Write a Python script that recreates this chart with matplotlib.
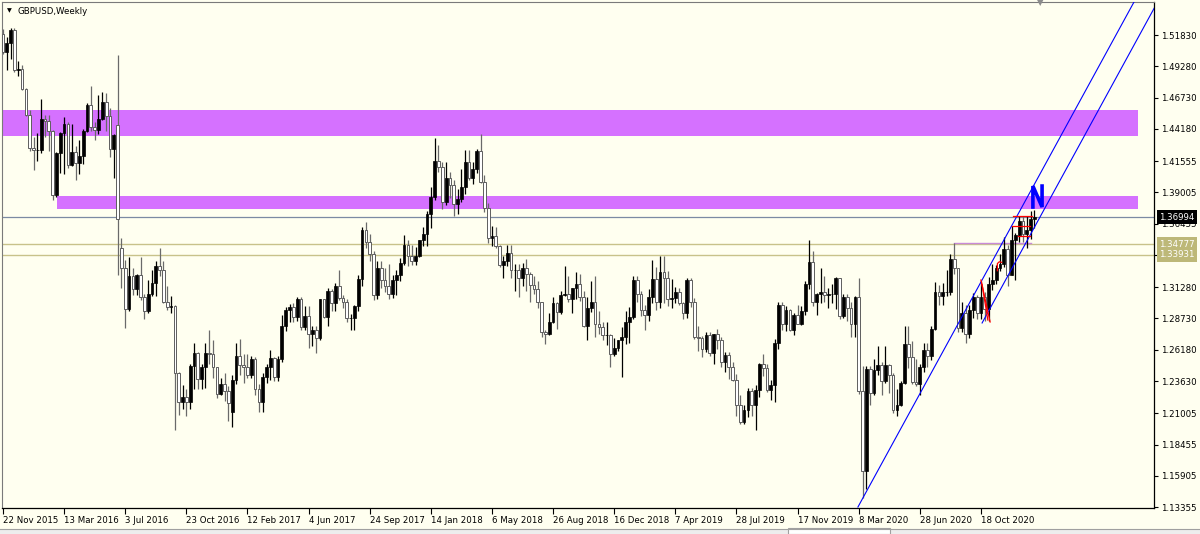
import numpy as np
import pandas as pd
import matplotlib
matplotlib.use("Agg")
import matplotlib.pyplot as plt
from matplotlib.patches import Rectangle
from matplotlib.transforms import blended_transform_factory

symbol = "GBPUSD,Weekly"
first_week = "2015-11-22"

# weekly bars, first one is the week of 22 Nov 2015
opens = [
    1.5195, 1.5045, 1.5120, 1.5220, 1.4895, 1.4905, 1.4740, 1.4535, 1.4260, 1.4245,
    1.4245, 1.4500, 1.4485, 1.4400, 1.3880, 1.4225, 1.4385, 1.4460, 1.4120, 1.4230,
    1.4140, 1.4200, 1.4400, 1.4615, 1.4435, 1.4410, 1.4495, 1.4640, 1.4520, 1.4255,
    1.4450, 1.3450, 1.3280, 1.2950, 1.3220, 1.3110, 1.3225, 1.3045, 1.2935, 1.3075,
    1.3160, 1.3300, 1.3265, 1.3005, 1.2970, 1.2975, 1.2430, 1.2190, 1.2230, 1.2190,
    1.2485, 1.2595, 1.2380, 1.2475, 1.2590, 1.2580, 1.2480, 1.2260, 1.2340, 1.2280,
    1.2110, 1.2370, 1.2570, 1.2490, 1.2480, 1.2410, 1.2545, 1.2295, 1.2195, 1.2395,
    1.2480, 1.2550, 1.2395, 1.2540, 1.2810, 1.2945, 1.2965, 1.2885, 1.3035, 1.2805,
    1.2890, 1.2745, 1.2780, 1.2715, 1.3030, 1.2885, 1.3095, 1.2995, 1.3135, 1.3040,
    1.3010, 1.2875, 1.2880, 1.2975, 1.3195, 1.3595, 1.3500, 1.3395, 1.3065, 1.3285,
    1.3190, 1.3135, 1.3075, 1.3190, 1.3225, 1.3325, 1.3475, 1.3385, 1.3340, 1.3380,
    1.3510, 1.3565, 1.3725, 1.3865, 1.4155, 1.4110, 1.3825, 1.4015, 1.3960, 1.3805,
    1.3850, 1.3945, 1.4145, 1.4020, 1.4090, 1.4240, 1.3985, 1.3775, 1.3530, 1.3545,
    1.3465, 1.3305, 1.3340, 1.3410, 1.3265, 1.3265, 1.3205, 1.3285, 1.3235, 1.3145,
    1.3115, 1.3005, 1.2765, 1.2745, 1.2845, 1.3000, 1.2925, 1.3065, 1.3075, 1.3030,
    1.3120, 1.3150, 1.3045, 1.2815, 1.2960, 1.3005, 1.2825, 1.2805, 1.2735, 1.2735,
    1.2585, 1.2635, 1.2695, 1.2725, 1.2840, 1.2885, 1.3190, 1.3075, 1.2940, 1.2900,
    1.3045, 1.3195, 1.3005, 1.3250, 1.3205, 1.3030, 1.3040, 1.3085, 1.3000, 1.2915,
    1.3185, 1.3005, 1.2720, 1.2715, 1.2625, 1.2740, 1.2590, 1.2745, 1.2695, 1.2520,
    1.2575, 1.2475, 1.2375, 1.2165, 1.2030, 1.2130, 1.2280, 1.2165, 1.2290, 1.2500,
    1.2470, 1.2290, 1.2330, 1.2670, 1.2985, 1.2830, 1.2940, 1.2780, 1.2905, 1.2830,
    1.2930, 1.3150, 1.3330, 1.3010, 1.3075, 1.3085, 1.3060, 1.3070, 1.3075, 1.3200,
    1.2895, 1.3045, 1.2960, 1.2825, 1.3045, 1.2280, 1.1630, 1.2460, 1.2265, 1.2450,
    1.2495, 1.2365, 1.2490, 1.2410, 1.2130, 1.2170, 1.2345, 1.2665, 1.2560, 1.2355,
    1.2335, 1.2480, 1.2615, 1.2570, 1.2790, 1.3085, 1.3055, 1.3090, 1.3090, 1.3355,
    1.3280, 1.2795, 1.2915, 1.2745, 1.2940, 1.3045, 1.2915, 1.3045, 1.2950, 1.3150,
    1.3190, 1.3285, 1.3315, 1.3440, 1.3230, 1.3515, 1.3555, 1.3670, 1.3565, 1.3590,
    1.3685,
]
highs = [
    1.5235, 1.5165, 1.5240, 1.5240, 1.4970, 1.4935, 1.4750, 1.4570, 1.4350, 1.4385,
    1.4665, 1.4535, 1.4530, 1.4410, 1.4230, 1.4395, 1.4515, 1.4470, 1.4460, 1.4280,
    1.4330, 1.4415, 1.4630, 1.4770, 1.4470, 1.4695, 1.4720, 1.4710, 1.4590, 1.4375,
    1.5020, 1.3530, 1.3350, 1.3370, 1.3285, 1.3235, 1.3370, 1.3070, 1.3185, 1.3270,
    1.3345, 1.3445, 1.3340, 1.3140, 1.3055, 1.2980, 1.2435, 1.2330, 1.2295, 1.2500,
    1.2675, 1.2600, 1.2505, 1.2675, 1.2775, 1.2700, 1.2480, 1.2385, 1.2430, 1.2325,
    1.2415, 1.2675, 1.2705, 1.2580, 1.2580, 1.2570, 1.2555, 1.2335, 1.2430, 1.2505,
    1.2615, 1.2560, 1.2570, 1.2905, 1.2965, 1.2990, 1.3000, 1.3050, 1.3045, 1.2975,
    1.2975, 1.2815, 1.2815, 1.3030, 1.3035, 1.3125, 1.3115, 1.3165, 1.3270, 1.3060,
    1.3030, 1.2910, 1.2980, 1.3225, 1.3615, 1.3655, 1.3565, 1.3420, 1.3340, 1.3340,
    1.3285, 1.3320, 1.3225, 1.3270, 1.3365, 1.3550, 1.3510, 1.3470, 1.3455, 1.3515,
    1.3615, 1.3745, 1.3945, 1.4345, 1.4285, 1.4145, 1.4145, 1.4070, 1.4000, 1.3930,
    1.4090, 1.4245, 1.4245, 1.4145, 1.4250, 1.4377, 1.4040, 1.3815, 1.3630, 1.3620,
    1.3475, 1.3385, 1.3470, 1.3475, 1.3315, 1.3315, 1.3325, 1.3360, 1.3255, 1.3215,
    1.3175, 1.3010, 1.2775, 1.2915, 1.3045, 1.3010, 1.3100, 1.3300, 1.3215, 1.3125,
    1.3255, 1.3235, 1.3100, 1.3045, 1.3175, 1.3215, 1.2930, 1.2845, 1.2840, 1.2750,
    1.2715, 1.2700, 1.2800, 1.2930, 1.2965, 1.3215, 1.3215, 1.3095, 1.2985, 1.3110,
    1.3350, 1.3290, 1.3380, 1.3385, 1.3260, 1.3195, 1.3130, 1.3125, 1.3005, 1.3200,
    1.3200, 1.3040, 1.2815, 1.2730, 1.2765, 1.2760, 1.2750, 1.2785, 1.2720, 1.2600,
    1.2600, 1.2520, 1.2420, 1.2250, 1.2170, 1.2310, 1.2310, 1.2330, 1.2510, 1.2580,
    1.2500, 1.2375, 1.2705, 1.3010, 1.3010, 1.2975, 1.2950, 1.2920, 1.2985, 1.2975,
    1.3175, 1.3515, 1.3425, 1.3080, 1.3285, 1.3215, 1.3120, 1.3150, 1.3210, 1.3205,
    1.3070, 1.3070, 1.3010, 1.3055, 1.3200, 1.2485, 1.2485, 1.2485, 1.2545, 1.2650,
    1.2515, 1.2645, 1.2500, 1.2430, 1.2295, 1.2365, 1.2810, 1.2815, 1.2690, 1.2545,
    1.2500, 1.2670, 1.2670, 1.2815, 1.3170, 1.3145, 1.3165, 1.3265, 1.3395, 1.3485,
    1.3285, 1.3005, 1.2980, 1.2980, 1.3080, 1.3065, 1.3175, 1.3085, 1.3210, 1.3315,
    1.3310, 1.3400, 1.3540, 1.3470, 1.3625, 1.3570, 1.3705, 1.3705, 1.3710, 1.3745,
    1.3760,
]
lows = [
    1.5030, 1.4895, 1.4990, 1.4880, 1.4850, 1.4735, 1.4525, 1.4240, 1.4080, 1.4160,
    1.4220, 1.4350, 1.4240, 1.3835, 1.3865, 1.4055, 1.4050, 1.4100, 1.4115, 1.4005,
    1.4050, 1.4130, 1.4390, 1.4400, 1.4330, 1.4380, 1.4490, 1.4400, 1.4190, 1.4015,
    1.3230, 1.3120, 1.2795, 1.2930, 1.3060, 1.3060, 1.3025, 1.2865, 1.2915, 1.3055,
    1.3055, 1.3215, 1.3000, 1.2945, 1.2920, 1.1960, 1.2085, 1.2135, 1.2080, 1.2135,
    1.2300, 1.2300, 1.2300, 1.2310, 1.2505, 1.2385, 1.2225, 1.2245, 1.2200, 1.2035,
    1.1985, 1.2340, 1.2410, 1.2345, 1.2385, 1.2385, 1.2250, 1.2110, 1.2110, 1.2345,
    1.2375, 1.2365, 1.2365, 1.2515, 1.2770, 1.2840, 1.2840, 1.2850, 1.2775, 1.2775,
    1.2635, 1.2650, 1.2590, 1.2695, 1.2880, 1.2810, 1.2930, 1.2930, 1.3020, 1.2955,
    1.2845, 1.2775, 1.2775, 1.2930, 1.3140, 1.3450, 1.3340, 1.3025, 1.3030, 1.3125,
    1.3085, 1.3030, 1.3040, 1.3060, 1.3175, 1.3305, 1.3300, 1.3310, 1.3305, 1.3370,
    1.3460, 1.3460, 1.3610, 1.3840, 1.4065, 1.3765, 1.3795, 1.3855, 1.3710, 1.3725,
    1.3820, 1.3890, 1.4000, 1.3965, 1.4055, 1.3975, 1.3740, 1.3485, 1.3460, 1.3445,
    1.3295, 1.3205, 1.3300, 1.3205, 1.3100, 1.3050, 1.3135, 1.3100, 1.3010, 1.3070,
    1.2955, 1.2725, 1.2665, 1.2735, 1.2835, 1.2785, 1.2910, 1.3055, 1.3010, 1.2920,
    1.3030, 1.3015, 1.2800, 1.2695, 1.2925, 1.2725, 1.2750, 1.2700, 1.2660, 1.2475,
    1.2570, 1.2605, 1.2395, 1.2665, 1.2670, 1.2865, 1.3005, 1.2890, 1.2775, 1.2855,
    1.3000, 1.2945, 1.2960, 1.3000, 1.2975, 1.2960, 1.3000, 1.2985, 1.2865, 1.2880,
    1.2970, 1.2705, 1.2605, 1.2560, 1.2600, 1.2570, 1.2505, 1.2625, 1.2480, 1.2440,
    1.2380, 1.2360, 1.2080, 1.2015, 1.2015, 1.2070, 1.2075, 1.1960, 1.2235, 1.2400,
    1.2270, 1.2205, 1.2195, 1.2620, 1.2775, 1.2770, 1.2770, 1.2735, 1.2825, 1.2820,
    1.2900, 1.3110, 1.2975, 1.2905, 1.2995, 1.3010, 1.2960, 1.2995, 1.2950, 1.2870,
    1.2875, 1.2850, 1.2725, 1.2725, 1.2260, 1.1410, 1.1480, 1.2165, 1.2245, 1.2410,
    1.2245, 1.2350, 1.2265, 1.2105, 1.2075, 1.2160, 1.2335, 1.2465, 1.2335, 1.2320,
    1.2250, 1.2440, 1.2480, 1.2535, 1.2780, 1.2980, 1.2980, 1.3055, 1.3060, 1.3235,
    1.2765, 1.2765, 1.2675, 1.2710, 1.2880, 1.2865, 1.2865, 1.2855, 1.2855, 1.3105,
    1.3150, 1.3260, 1.3290, 1.3135, 1.3225, 1.3190, 1.3500, 1.3500, 1.3450, 1.3520,
    1.3610,
]
closes = [
    1.5045, 1.5120, 1.5220, 1.4895, 1.4905, 1.4740, 1.4535, 1.4260, 1.4245, 1.4245,
    1.4500, 1.4485, 1.4400, 1.3880, 1.4225, 1.4385, 1.4460, 1.4120, 1.4230, 1.4140,
    1.4200, 1.4400, 1.4615, 1.4435, 1.4410, 1.4495, 1.4640, 1.4520, 1.4255, 1.4365,
    1.3680, 1.3280, 1.2950, 1.3220, 1.3110, 1.3225, 1.3045, 1.2935, 1.3075, 1.3160,
    1.3300, 1.3265, 1.3005, 1.2970, 1.2975, 1.2430, 1.2190, 1.2230, 1.2190, 1.2485,
    1.2595, 1.2380, 1.2475, 1.2590, 1.2580, 1.2480, 1.2260, 1.2340, 1.2280, 1.2180,
    1.2370, 1.2570, 1.2490, 1.2480, 1.2410, 1.2545, 1.2295, 1.2195, 1.2395, 1.2480,
    1.2550, 1.2395, 1.2540, 1.2810, 1.2945, 1.2965, 1.2885, 1.3035, 1.2805, 1.2890,
    1.2745, 1.2780, 1.2715, 1.3030, 1.2885, 1.3095, 1.2995, 1.3135, 1.3040, 1.3010,
    1.2875, 1.2880, 1.2975, 1.3195, 1.3595, 1.3500, 1.3395, 1.3065, 1.3285, 1.3190,
    1.3135, 1.3075, 1.3190, 1.3225, 1.3325, 1.3475, 1.3385, 1.3340, 1.3380, 1.3510,
    1.3565, 1.3725, 1.3865, 1.4155, 1.4110, 1.3825, 1.4015, 1.3960, 1.3805, 1.3850,
    1.3945, 1.4145, 1.4020, 1.4090, 1.4240, 1.3985, 1.3775, 1.3530, 1.3545, 1.3465,
    1.3305, 1.3340, 1.3410, 1.3265, 1.3265, 1.3205, 1.3285, 1.3235, 1.3145, 1.3115,
    1.3005, 1.2765, 1.2745, 1.2845, 1.3000, 1.2925, 1.3065, 1.3075, 1.3030, 1.3120,
    1.3150, 1.3045, 1.2815, 1.2960, 1.3005, 1.2825, 1.2805, 1.2735, 1.2735, 1.2585,
    1.2635, 1.2695, 1.2725, 1.2840, 1.2885, 1.3190, 1.3075, 1.2940, 1.2900, 1.3045,
    1.3195, 1.3005, 1.3250, 1.3205, 1.3030, 1.3040, 1.3085, 1.3000, 1.2915, 1.3185,
    1.3005, 1.2720, 1.2715, 1.2625, 1.2740, 1.2590, 1.2745, 1.2695, 1.2520, 1.2575,
    1.2475, 1.2375, 1.2165, 1.2030, 1.2130, 1.2280, 1.2165, 1.2290, 1.2500, 1.2470,
    1.2290, 1.2330, 1.2670, 1.2985, 1.2830, 1.2940, 1.2780, 1.2905, 1.2830, 1.2930,
    1.3150, 1.3330, 1.3010, 1.3075, 1.3085, 1.3060, 1.3070, 1.3075, 1.3200, 1.2895,
    1.3045, 1.2960, 1.2825, 1.3045, 1.2280, 1.1630, 1.2460, 1.2265, 1.2450, 1.2495,
    1.2365, 1.2490, 1.2410, 1.2130, 1.2170, 1.2345, 1.2665, 1.2560, 1.2355, 1.2335,
    1.2480, 1.2615, 1.2570, 1.2790, 1.3085, 1.3055, 1.3090, 1.3090, 1.3355, 1.3280,
    1.2795, 1.2915, 1.2745, 1.2940, 1.3045, 1.2915, 1.3045, 1.2950, 1.3150, 1.3190,
    1.3285, 1.3315, 1.3440, 1.3230, 1.3515, 1.3555, 1.3670, 1.3565, 1.3590, 1.3685,
    1.3699,
]

# drawn objects (bar index, price)
zone_upper = (-1.0, 297.1, 1.4360, 1.4572)
zone_lower = (14.1, 297.1, 1.3765, 1.3871)
last_price = 1.36994
level_prices = [1.34777, 1.33931]
sep_high_line = (249, 269, 1.3485)
channel_a = [(223.8, 1.1336), (276.7, 1.4349)]
channel_b = [(256.3, 1.2836), (309.2, 1.5849)]
n_letter = [(269.6, 1.3781), (269.6, 1.3952), (272.0, 1.3781), (272.0, 1.3952)]
red_lines = [
    [(256.0, 1.3186), (258.4, 1.2844)],
    [(256.3, 1.3150), (257.8, 1.2860)],
    [(260.3, 1.3262), (260.3, 1.3320), (260.8, 1.3335), (261.4, 1.3330)],
    [(264.4, 1.3708), (269.4, 1.3708)],
    [(264.1, 1.3626), (268.8, 1.3626)],
    [(265.7, 1.3545), (268.8, 1.3545)],
]

price_ticks = [1.51830, 1.49280, 1.46730, 1.44180, 1.41555, 1.39005, 1.36455,
               1.33905, 1.31280, 1.28730, 1.26180, 1.23630, 1.21005, 1.18455,
               1.15905, 1.13355]

bg = "#FFFFF0"
fig = plt.figure(figsize=(12, 5.34), dpi=100, facecolor=bg)
ax = fig.add_axes([2 / 1200, 26 / 534, 1152 / 1200, 506 / 534], facecolor=bg)

o = np.array(opens)
h = np.array(highs)
l = np.array(lows)
c = np.array(closes)
x = np.arange(len(c))
up = c >= o

# zones behind everything
for x0, x1, y0, y1 in (zone_upper, zone_lower):
    ax.add_patch(Rectangle((x0, y0), x1 - x0, y1 - y0, facecolor="#D571FF",
                           edgecolor="none", zorder=0.5))

ax.axhline(last_price, color="#7C8AA3", lw=0.9, zorder=0.8)
for p in level_prices:
    ax.axhline(p, color="#C8C28A", lw=1.0, zorder=0.8)
ax.plot([sep_high_line[0], sep_high_line[1]], [sep_high_line[2]] * 2,
        color="#C98AD8", lw=1.0, zorder=0.9)

# candles
ax.vlines(x[up], l[up], h[up], color="black", lw=0.9, zorder=2)
ax.vlines(x[~up], l[~up], h[~up], color="#6A6A6A", lw=0.9, zorder=2)
ax.bar(x[up], (c - o)[up], bottom=o[up], width=0.72, color="black",
       edgecolor="black", lw=0.5, zorder=3)
ax.bar(x[~up], (o - c)[~up], bottom=c[~up], width=0.72, color="white",
       edgecolor="#5E5E5E", lw=0.7, zorder=3)

# channel rays
for (xa, ya), (xb, yb) in (channel_a, channel_b):
    k = (yb - ya) / (xb - xa)
    ax.plot([xa, 330], [ya, ya + k * (330 - xa)], color="#0000FF", lw=0.8, zorder=4)

for seg in red_lines:
    sx, sy = zip(*seg)
    ax.plot(sx, sy, color="#FF0000", lw=0.9, zorder=5)
nx, ny = zip(*n_letter)
ax.plot(nx, ny, color="#0000FF", lw=2.6, solid_joinstyle="miter", zorder=6)

ax.set_xlim(-0.26, 301.3)
ax.set_ylim(1.1328, 1.5452)

# price scale
ax.yaxis.tick_right()
ax.set_yticks(price_ticks)
ax.set_yticklabels([f"{p:.5f}" for p in price_ticks])
ax.tick_params(axis="y", length=3, width=0.8, pad=2, labelsize=6.2, colors="black")

# time scale
dates = pd.date_range(first_week, periods=len(c), freq="7D")
tick_idx = np.arange(0, len(c), 16)
ax.set_xticks(tick_idx)
ax.set_xticklabels([f"{d.day} {d:%b %Y}" for d in dates[tick_idx]], ha="left")
ax.tick_params(axis="x", length=4, width=0.8, pad=1.5, labelsize=6.2, colors="black")

for side in ("left", "top"):
    ax.spines[side].set_color("#7A7A7A")
    ax.spines[side].set_linewidth(0.8)
for side in ("right", "bottom"):
    ax.spines[side].set_color("black")
    ax.spines[side].set_linewidth(0.9)

tr = blended_transform_factory(ax.transAxes, ax.transData)
ax.text(1.0045, last_price, f"{last_price:.5f}", transform=tr, va="center", ha="left",
        fontsize=6.2, color="white", zorder=10,
        bbox=dict(facecolor="black", edgecolor="none", pad=1.6))
for p in level_prices:
    ax.text(1.0045, p, f"{p:.5f}", transform=tr, va="center", ha="left",
            fontsize=6.2, color="white", zorder=10,
            bbox=dict(facecolor="#BDB878", edgecolor="none", pad=1.9))

fig.text(9 / 1200, 1 - 11 / 534, "\u25bc", fontsize=4.5, ha="center", va="center")
fig.text(18 / 1200, 1 - 11 / 534, symbol, fontsize=6.2, ha="left", va="center")
fig.text(1040 / 1200, 1 - 3 / 534, "\u25bc", fontsize=6, color="#8C8C8C",
         ha="center", va="center")

# tab strip at the bottom
fig.add_artist(Rectangle((0, 0), 1, 5 / 534, transform=fig.transFigure,
                         facecolor="#EDEDED", edgecolor="none"))
fig.add_artist(plt.Line2D([0, 1], [5 / 534, 5 / 534], transform=fig.transFigure,
                          color="#A0A0A0", lw=0.8))
fig.add_artist(Rectangle((788 / 1200, 0), 102 / 1200, 6 / 534, transform=fig.transFigure,
                         facecolor="white", edgecolor="#A0A0A0", lw=0.8))

fig.savefig("out.png", dpi=100, facecolor=bg)
